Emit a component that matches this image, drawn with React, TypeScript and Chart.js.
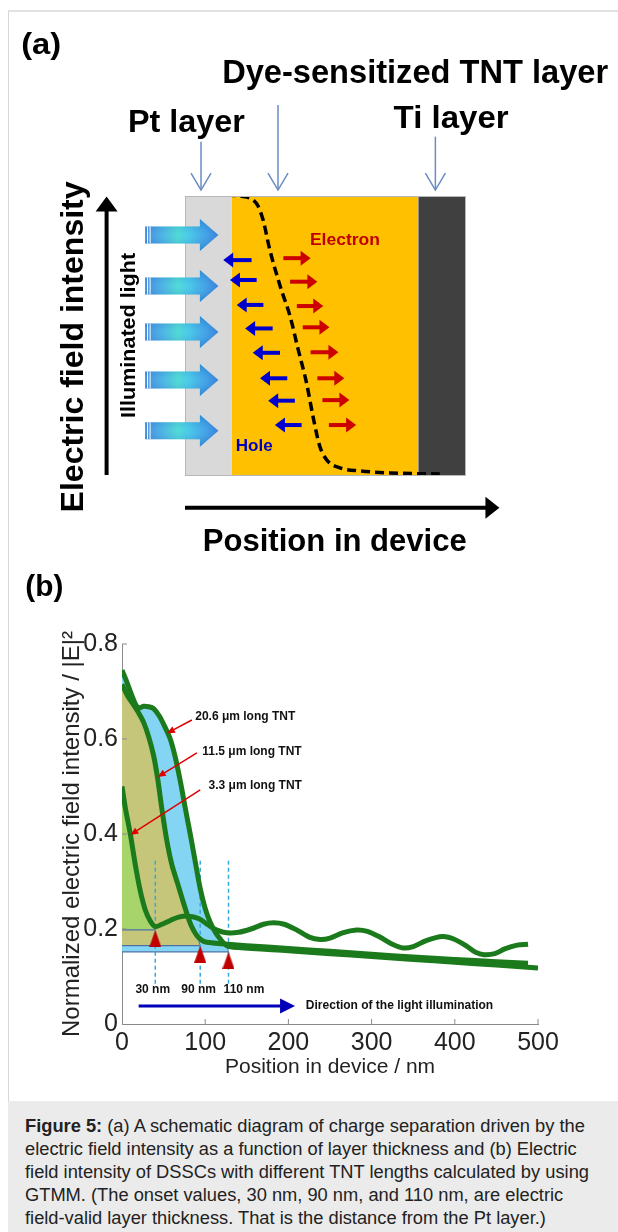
import React, { useEffect, useRef } from "react";
import { Chart, registerables } from "chart.js";
Chart.register(...registerables);

const SANS = '"Liberation Sans", Arial, Helvetica, sans-serif';
const NARROW = '"Liberation Sans Narrow", "Arial Narrow", "Liberation Sans", Arial, sans-serif';

// ================= Panel (b) data =================
const B_X_TICKS = [0, 100, 200, 300, 400, 500];
const B_Y_TICKS = [0, 0.2, 0.4, 0.6, 0.8];

const TNT206_X = [0, 4, 9, 14, 18, 22, 26, 32, 38, 45, 52, 58, 64, 70, 76, 82, 88, 94, 100, 106, 112, 118, 126, 140, 200, 250, 300, 350, 400, 450, 500];
const TNT206_Y = [0.745, 0.728, 0.705, 0.682, 0.668, 0.666, 0.669, 0.668, 0.664, 0.648, 0.624, 0.6, 0.562, 0.512, 0.455, 0.4, 0.342, 0.285, 0.243, 0.214, 0.194, 0.179, 0.165, 0.161, 0.154, 0.148, 0.142, 0.136, 0.13, 0.124, 0.118];

const TNT115_X = [0, 7, 14, 20, 26, 32, 38, 43, 48, 54, 60, 67, 72, 77, 83, 90, 96, 102, 120, 150, 200, 250, 300, 350, 400, 450, 488];
const TNT115_Y = [0.715, 0.69, 0.672, 0.655, 0.635, 0.605, 0.565, 0.515, 0.452, 0.385, 0.335, 0.295, 0.266, 0.238, 0.208, 0.186, 0.176, 0.172, 0.169, 0.165, 0.159, 0.153, 0.147, 0.141, 0.136, 0.131, 0.128];

const TNT33_X = [0, 4, 10, 16, 22, 28, 34, 40, 48, 58, 68, 80, 92, 104, 115, 126, 140, 155, 170, 182, 195, 210, 225, 238, 250, 265, 282, 295, 310, 325, 338, 350, 365, 385, 400, 415, 425, 435, 448, 460, 475, 488];
const TNT33_Y = [0.5, 0.455, 0.4, 0.335, 0.28, 0.24, 0.217, 0.205, 0.21, 0.218, 0.225, 0.227, 0.222, 0.208, 0.197, 0.192, 0.193, 0.2, 0.21, 0.213, 0.21, 0.198, 0.183, 0.178, 0.181, 0.192, 0.198, 0.195, 0.183, 0.168, 0.16, 0.163, 0.175, 0.184, 0.178, 0.163, 0.151, 0.146, 0.148, 0.158, 0.166, 0.168];

const SERIES_LABELS = ["20.6 \u03bcm long TNT", "11.5 \u03bcm long TNT", "3.3 \u03bcm long TNT"];
const SERIES_LABEL_X = [88, 96.5, 104];
const SERIES_LABEL_Y = [0.647, 0.573, 0.502];
const POINTER_FROM_X = [84, 90, 94];
const POINTER_FROM_Y = [0.64, 0.571, 0.493];
const POINTER_TO_X = [54, 43, 10];
const POINTER_TO_Y = [0.612, 0.52, 0.398];

// onset (electric-field-valid thickness) markers, in label order 30, 90, 110 nm
const ONSET_LABELS = ["30 nm", "90 nm", "110 nm"];
const ONSET_X = [40, 94, 128];
const ONSET_Y = [0.198, 0.165, 0.152];
const ONSET_LABEL_X = [37, 92, 146.6];
const ONSET_LABEL_Y = 0.072;
const ONSET_LINE_Y = [0.085, 0.35];
// which onset belongs to which series (20.6, 11.5, 3.3)
const SERIES_ONSET = [2, 1, 0];

const LIGHT_DIR_TEXT = "Direction of the light illumination";
const LIGHT_DIR_X = [20, 208];
const LIGHT_DIR_Y = 0.038;
const LIGHT_DIR_TEXT_X = 221;

// ================= Panel (a) data (x: position 0-100, y: intensity 0-1) =================
const LAYER_NAMES = ["Pt", "TNT", "Ti"];
const LAYER_START = [0, 16.7, 83.0];
const LAYER_END = [16.7, 83.0, 100];
const LAYER_COLORS = ["#d9d9d9", "#ffc000", "#404040"];

const FIELD_X = [14.8, 19.6, 24.2, 26.0, 27.8, 30.2, 33.8, 37.4, 40.2, 43.3, 45.6, 48.0, 50.5, 55.2, 62.3, 73.0, 90.7];
const FIELD_Y = [1.004, 1.0, 0.986, 0.964, 0.914, 0.807, 0.68, 0.57, 0.455, 0.33, 0.21, 0.105, 0.057, 0.029, 0.018, 0.011, 0.007];

const LIGHT_Y = [0.861, 0.679, 0.514, 0.343, 0.162];
const LIGHT_TAIL = -14.2, LIGHT_HEAD = 5.3, LIGHT_TIP = 11.9;

const HOLE_Y = [0.771, 0.7, 0.611, 0.527, 0.44, 0.349, 0.269, 0.182];
const HOLE_TIP = [13.6, 16.0, 18.4, 21.4, 24.1, 26.7, 29.6, 32.0];
const HOLE_TAIL = [23.7, 25.5, 27.9, 31.2, 33.8, 36.4, 39.1, 41.5];

const ELEC_Y = [0.778, 0.694, 0.607, 0.531, 0.442, 0.349, 0.271, 0.182];
const ELEC_TAIL = [35.0, 37.4, 39.8, 41.9, 44.7, 47.1, 48.9, 51.2];
const ELEC_TIP = [44.7, 47.1, 49.2, 51.4, 54.6, 56.7, 58.5, 60.9];

const LAYER_LABELS = ["Pt layer", "Dye-sensitized TNT layer", "Ti layer"];
const LAYER_LABEL_X = [0.5, 81.9, 94.7];
const LAYER_LABEL_Y = [1.23, 1.404, 1.243];
const LAYER_LABEL_W = [117, 386, 115];
const LAYER_LABEL_SIZE = [32, 34, 32];
const LAYER_POINTER_X = [5.7, 33.1, 89.1];
const LAYER_POINTER_TOP = [1.194, 1.325, 1.212];
const LAYER_POINTER_BOTTOM = 1.021;

function line(ctx: CanvasRenderingContext2D, x1: number, y1: number, x2: number, y2: number) {
  ctx.beginPath();
  ctx.moveTo(x1, y1);
  ctx.lineTo(x2, y2);
  ctx.stroke();
}

function fitText(ctx: CanvasRenderingContext2D, text: string, x: number, y: number, size: number, width: number, color: string, rot = 0, bold = true, baseline: CanvasTextBaseline = "alphabetic") {
  ctx.save();
  ctx.font = `${bold ? "bold " : ""}${size}px ${SANS}`;
  ctx.fillStyle = color;
  ctx.textAlign = "center";
  ctx.textBaseline = baseline;
  const w = ctx.measureText(text).width;
  ctx.translate(x, y);
  if (rot) ctx.rotate(rot);
  ctx.scale(width / w, 1);
  ctx.fillText(text, 0, 0);
  ctx.restore();
}

function arrowH(ctx: CanvasRenderingContext2D, x1: number, x2: number, y: number, color: string, lw: number, headLen: number, headHalf: number) {
  const dir = Math.sign(x2 - x1);
  ctx.save();
  ctx.strokeStyle = color;
  ctx.fillStyle = color;
  ctx.lineWidth = lw;
  line(ctx, x1, y, x2 - dir * headLen * 0.9, y);
  ctx.beginPath();
  ctx.moveTo(x2, y);
  ctx.lineTo(x2 - dir * headLen, y - headHalf);
  ctx.lineTo(x2 - dir * headLen, y + headHalf);
  ctx.closePath();
  ctx.fill();
  ctx.restore();
}

const pts = (xs: number[], ys: number[]) => xs.map((x, i) => ({ x, y: ys[i] }));

function PanelA() {
  const ref = useRef<HTMLCanvasElement>(null);
  useEffect(() => {
    const plugin = {
      id: "schematicA",
      afterDatasetsDraw(chart: any) {
        const { ctx, scales } = chart;
        const X = (v: number) => scales.x.getPixelForValue(v);
        const Y = (v: number) => scales.y.getPixelForValue(v);
        ctx.save();
        // layer outlines
        ctx.strokeStyle = "#b8b8b8";
        ctx.lineWidth = 1;
        ctx.strokeRect(X(LAYER_START[0]) + 0.5, Y(1) + 0.5, X(LAYER_END[2]) - X(LAYER_START[0]) - 1, Y(0) - Y(1) - 1);
        // light arrows
        LIGHT_Y.forEach((ly) => {
          const cy = Y(ly);
          const xt = X(LIGHT_TAIL), xh = X(LIGHT_HEAD), xp = X(LIGHT_TIP);
          const bh = 8.5, hh = 16;
          const g = ctx.createLinearGradient(xt, 0, xp, 0);
          g.addColorStop(0, "#2a7fd6");
          g.addColorStop(0.2, "#35a4e2");
          g.addColorStop(0.45, "#3ad6d2");
          g.addColorStop(0.6, "#33c2e8");
          g.addColorStop(0.85, "#2a92e2");
          g.addColorStop(1, "#1f72d4");
          ctx.fillStyle = g;
          ctx.beginPath();
          ctx.moveTo(xt, cy - bh);
          ctx.lineTo(xh, cy - bh);
          ctx.lineTo(xh, cy - hh);
          ctx.lineTo(xp, cy);
          ctx.lineTo(xh, cy + hh);
          ctx.lineTo(xh, cy + bh);
          ctx.lineTo(xt, cy + bh);
          ctx.closePath();
          ctx.fill();
          const v = ctx.createLinearGradient(0, cy - hh, 0, cy + hh);
          v.addColorStop(0, "rgba(20,60,170,0.25)");
          v.addColorStop(0.5, "rgba(255,255,255,0.12)");
          v.addColorStop(1, "rgba(20,60,170,0.3)");
          ctx.fillStyle = v;
          ctx.fill();
          ctx.strokeStyle = "#ffffff";
          ctx.lineWidth = 1;
          line(ctx, xt + 2.5, cy - bh, xt + 2.5, cy + bh);
          line(ctx, xt + 5, cy - bh, xt + 5, cy + bh);
        });
        // holes and electrons
        HOLE_Y.forEach((hy, i) => arrowH(ctx, X(HOLE_TAIL[i]), X(HOLE_TIP[i]), Y(hy), "#0000cc", 4, 10, 7.5));
        ELEC_Y.forEach((ey, i) => arrowH(ctx, X(ELEC_TAIL[i]), X(ELEC_TIP[i]), Y(ey), "#cc0000", 4, 10, 7.5));
        // axis arrows
        ctx.strokeStyle = "#000";
        ctx.fillStyle = "#000";
        ctx.lineWidth = 4;
        const ax = X(-27.9);
        line(ctx, ax, Y(0.004), ax, Y(1.0) + 12);
        ctx.beginPath();
        ctx.moveTo(ax, Y(0.998));
        ctx.lineTo(ax - 11, Y(0.998) + 15);
        ctx.lineTo(ax + 11, Y(0.998) + 15);
        ctx.closePath();
        ctx.fill();
        arrowH(ctx, X(0), X(111.9), Y(-0.113), "#000", 4, 14, 11);
        // layer pointers
        ctx.strokeStyle = "#6a8cc4";
        ctx.lineWidth = 1.5;
        LAYER_POINTER_X.forEach((px, i) => {
          const x = X(px), yb = Y(LAYER_POINTER_BOTTOM);
          line(ctx, x, Y(LAYER_POINTER_TOP[i]), x, yb);
          ctx.beginPath();
          ctx.moveTo(x - 10, yb - 17);
          ctx.lineTo(x, yb);
          ctx.lineTo(x + 10, yb - 17);
          ctx.stroke();
        });
        // texts
        LAYER_LABELS.forEach((t, i) => fitText(ctx, t, X(LAYER_LABEL_X[i]), Y(LAYER_LABEL_Y[i]), LAYER_LABEL_SIZE[i], LAYER_LABEL_W[i], "#000"));
        fitText(ctx, "(a)", X(-51.2), Y(1.536), 30, 40, "#000", 0, true, "middle");
        fitText(ctx, "Electric field intensity", X(-36.3), Y(0.461), 32, 331, "#000", -Math.PI / 2);
        fitText(ctx, "Illuminated light", X(-17.8), Y(0.502), 21, 165, "#000", -Math.PI / 2);
        fitText(ctx, "Position in device", X(53.3), Y(-0.268), 31, 264, "#000");
        fitText(ctx, "Electron", X(56.9), Y(0.843), 17, 70, "#c00000", 0, true, "middle");
        fitText(ctx, "Hole", X(24.6), Y(0.105), 17, 37, "#0000c0", 0, true, "middle");
        ctx.restore();
      },
    };
    const layerSets = LAYER_NAMES.map((n, i) => ({
      label: n,
      data: [{ x: LAYER_START[i], y: 1 }, { x: LAYER_END[i], y: 1 }],
      showLine: true,
      fill: { value: 0 },
      backgroundColor: LAYER_COLORS[i],
      borderWidth: 0,
      pointRadius: 0,
      order: 10,
    }));
    const chart = new Chart(ref.current!, {
      type: "scatter",
      data: {
        datasets: [
          ...layerSets,
          {
            label: "field",
            data: pts(FIELD_X, FIELD_Y),
            showLine: true,
            borderColor: "#000",
            borderWidth: 3.5,
            borderDash: [9, 5],
            pointRadius: 0,
            cubicInterpolationMode: "monotone",
            fill: false,
            order: 1,
          } as any,
        ],
      },
      options: {
        responsive: false,
        animation: false,
        devicePixelRatio: 1,
        events: [],
        layout: { padding: { left: 185, right: 152, top: 196, bottom: 84 } },
        plugins: { legend: { display: false }, tooltip: { enabled: false } },
        scales: {
          x: { type: "linear", min: 0, max: 100, display: false },
          y: { type: "linear", min: 0, max: 1, display: false },
        },
      },
      plugins: [plugin],
    });
    return () => chart.destroy();
  }, []);
  return <canvas ref={ref} width={618} height={560} style={{ position: "absolute", left: 0, top: 0 }} />;
}

function PanelB() {
  const ref = useRef<HTMLCanvasElement>(null);
  useEffect(() => {
    const tri = document.createElement("canvas");
    tri.width = 12;
    tri.height = 34;
    const tc = tri.getContext("2d")!;
    tc.fillStyle = "#c00000";
    tc.beginPath();
    tc.moveTo(6, 17);
    tc.lineTo(12, 34);
    tc.lineTo(0, 34);
    tc.closePath();
    tc.fill();

    const series = [
      { xs: TNT206_X, ys: TNT206_Y },
      { xs: TNT115_X, ys: TNT115_Y },
      { xs: TNT33_X, ys: TNT33_Y },
    ];
    const fillColors = ["#84d4f4", "#c6c67a", "#a8d46c"];
    const fillSets = series.map((s, i) => {
      const k = SERIES_ONSET[i];
      const d = pts(s.xs, s.ys).filter((p) => p.x < ONSET_X[k]);
      d.push({ x: ONSET_X[k], y: ONSET_Y[k] });
      return {
        label: "fill" + i,
        data: d,
        showLine: true,
        fill: { value: ONSET_Y[k] },
        backgroundColor: fillColors[i],
        borderColor: "#4d6fa8",
        borderWidth: 1,
        pointRadius: 0,
        tension: 0.3,
        order: 10 - i,
      };
    });
    const edgeSets = ONSET_X.map((x, i) => ({
      label: "edge" + i,
      data: [{ x: 0, y: ONSET_Y[i] }, { x, y: ONSET_Y[i] }],
      showLine: true,
      borderColor: "#4d6fa8",
      borderWidth: 1.2,
      pointRadius: 0,
      fill: false,
      order: 6,
    }));
    const dashSets = ONSET_X.map((x, i) => ({
      label: "dash" + i,
      data: [{ x, y: ONSET_LINE_Y[0] }, { x, y: ONSET_LINE_Y[1] }],
      showLine: true,
      borderColor: "#36a9dc",
      borderWidth: 1.5,
      borderDash: [4, 3],
      pointRadius: 0,
      fill: false,
      order: 5,
    }));
    const curveSets = series.map((s, i) => ({
      label: SERIES_LABELS[i],
      data: pts(s.xs, s.ys),
      showLine: true,
      borderColor: "#1b7a1b",
      borderWidth: 5,
      pointRadius: 0,
      tension: 0.3,
      fill: false,
      order: 2,
    }));
    const triSet = {
      label: "onset",
      data: pts(ONSET_X, ONSET_Y),
      pointStyle: tri,
      pointRadius: 8,
      showLine: false,
      order: 0,
    };

    const plugin = {
      id: "annotB",
      afterDraw(chart: any) {
        const { ctx, scales } = chart;
        const X = (v: number) => scales.x.getPixelForValue(v);
        const Y = (v: number) => scales.y.getPixelForValue(v);
        ctx.save();
        // inward tick marks
        ctx.strokeStyle = "#8a8a8a";
        ctx.lineWidth = 1;
        B_X_TICKS.slice(1).forEach((t) => line(ctx, X(t), Y(0), X(t), Y(0) - 5));
        B_Y_TICKS.slice(1).forEach((t) => line(ctx, X(0), Y(t), X(0) + 5, Y(t)));
        // series pointers
        ctx.strokeStyle = "#e00000";
        ctx.fillStyle = "#e00000";
        ctx.lineWidth = 1.5;
        POINTER_FROM_X.forEach((fx, i) => {
          const x1 = X(fx), y1 = Y(POINTER_FROM_Y[i]);
          const x2 = X(POINTER_TO_X[i]), y2 = Y(POINTER_TO_Y[i]);
          const a = Math.atan2(y2 - y1, x2 - x1);
          line(ctx, x1, y1, x2 - Math.cos(a) * 5, y2 - Math.sin(a) * 5);
          ctx.beginPath();
          ctx.moveTo(x2, y2);
          ctx.lineTo(x2 - Math.cos(a) * 8 + Math.sin(a) * 3.5, y2 - Math.sin(a) * 8 - Math.cos(a) * 3.5);
          ctx.lineTo(x2 - Math.cos(a) * 8 - Math.sin(a) * 3.5, y2 - Math.sin(a) * 8 + Math.cos(a) * 3.5);
          ctx.closePath();
          ctx.fill();
        });
        ctx.fillStyle = "#111";
        ctx.font = `bold 12px ${SANS}`;
        ctx.textBaseline = "middle";
        ctx.textAlign = "left";
        SERIES_LABELS.forEach((t, i) => ctx.fillText(t, X(SERIES_LABEL_X[i]), Y(SERIES_LABEL_Y[i])));
        ctx.textAlign = "center";
        ONSET_LABELS.forEach((t, i) => ctx.fillText(t, X(ONSET_LABEL_X[i]), Y(ONSET_LABEL_Y)));
        ctx.textAlign = "left";
        ctx.fillText(LIGHT_DIR_TEXT, X(LIGHT_DIR_TEXT_X), Y(LIGHT_DIR_Y));
        arrowH(ctx, X(LIGHT_DIR_X[0]), X(LIGHT_DIR_X[1]), Y(LIGHT_DIR_Y), "#0000b8", 3, 15, 7.5);
        fitText(ctx, "(b)", X(-93.4), Y(0.918), 30, 38, "#000", 0, true, "middle");
        ctx.restore();
      },
    };

    const chart = new Chart(ref.current!, {
      type: "scatter",
      data: { datasets: [...fillSets, ...edgeSets, ...dashSets, ...curveSets, triSet] as any },
      options: {
        responsive: false,
        animation: false,
        devicePixelRatio: 1,
        events: [],
        layout: { padding: { left: 0, right: 80, top: 84, bottom: 0 } },
        plugins: { legend: { display: false }, tooltip: { enabled: false } },
        scales: {
          x: {
            type: "linear",
            min: 0,
            max: 500,
            afterBuildTicks: (s: any) => {
              s.ticks = B_X_TICKS.map((v) => ({ value: v }));
            },
            ticks: { font: { family: NARROW, size: 25 }, color: "#222", padding: 4, maxRotation: 0, autoSkip: false },
            grid: { display: false, drawTicks: false },
            border: { display: true, color: "#8a8a8a", width: 1 },
            title: { display: true, text: "Position in device / nm", font: { family: SANS, size: 21 }, color: "#222", padding: { top: 0, bottom: 20 } },
            afterFit: (s: any) => {
              s.height = 76;
            },
          },
          y: {
            type: "linear",
            min: 0,
            max: 0.8,
            afterBuildTicks: (s: any) => {
              s.ticks = B_Y_TICKS.map((v) => ({ value: v }));
            },
            ticks: { font: { family: NARROW, size: 25 }, color: "#222", padding: 4, autoSkip: false },
            grid: { display: false, drawTicks: false },
            border: { display: true, color: "#8a8a8a", width: 1 },
            title: { display: true, text: "Normalized electric field intensity / |E|\u00b2", font: { family: SANS, size: 24 }, color: "#222", padding: { top: 58, bottom: 0 } },
            afterFit: (s: any) => {
              s.width = 122;
            },
          },
        },
      },
      plugins: [plugin],
    });
    return () => chart.destroy();
  }, []);
  return <canvas ref={ref} width={618} height={540} style={{ position: "absolute", left: 0, top: 560 }} />;
}

export default function App() {
  return (
    <div style={{ position: "absolute", left: 0, top: 0, width: 618, height: 1232, background: "#fff", overflow: "hidden" }}>
      <div style={{ position: "absolute", left: 8, top: 10, width: 620, height: 1091, borderTop: "2px solid #e2e2e2", borderLeft: "1px solid #d6d6d6" }} />
      <PanelA />
      <PanelB />
      <div
        style={{
          position: "absolute",
          left: 8,
          top: 1101,
          width: 610,
          height: 131,
          background: "#ebebeb",
          boxSizing: "border-box",
          padding: "2px 0 0 17px",
          fontFamily: SANS,
          fontSize: 18.3,
          lineHeight: "23px",
          color: "#222",
          whiteSpace: "nowrap",
        }}
      >
        <div style={{ paddingTop: 11 }}>
          <b>Figure 5:</b> (a) A schematic diagram of charge separation driven by the
          <br />
          electric field intensity as a function of layer thickness and (b) Electric
          <br />
          field intensity of DSSCs with different TNT lengths calculated by using
          <br />
          GTMM. (The onset values, 30 nm, 90 nm, and 110 nm, are electric
          <br />
          field-valid layer thickness. That is the distance from the Pt layer.)
        </div>
      </div>
    </div>
  );
}
